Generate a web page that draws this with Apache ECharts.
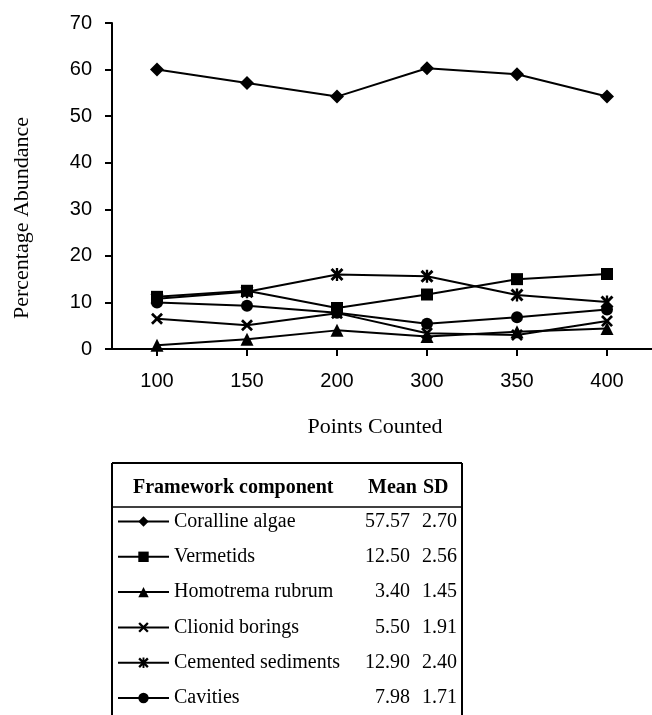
<!DOCTYPE html>
<html>
<head>
<meta charset="utf-8">
<script src="https://cdn.jsdelivr.net/npm/echarts@6/dist/echarts.min.js"></script>
<style>
html,body{margin:0;padding:0;background:#fff;}
#chart{width:652px;height:715px;}
</style>
</head>
<body>
<div id="chart"></div>
<script>
var categories = ['100', '150', '200', '300', '350', '400'];
var yTicks = [0, 10, 20, 30, 40, 50, 60, 70];

var seriesNames = ['Coralline algae', 'Vermetids', 'Homotrema rubrum', 'Clionid borings', 'Cemented sediments', 'Cavities'];
var coralline = [60.0, 57.1, 54.2, 60.3, 59.0, 54.2];
var vermetids = [11.2, 12.5, 8.8, 11.7, 15.0, 16.1];
var homotrema = [0.8, 2.1, 4.0, 2.7, 3.7, 4.4];
var clionid   = [6.5, 5.1, 7.7, 3.4, 3.0, 6.0];
var cemented  = [10.8, 12.3, 16.0, 15.6, 11.6, 10.1];
var cavities  = [10.0, 9.3, 7.8, 5.4, 6.8, 8.5];

var means = ['57.57', '12.50', '3.40', '5.50', '12.90', '7.98'];
var sds   = ['2.70', '2.56', '1.45', '1.91', '2.40', '1.71'];

var tableHeader = ['Framework component', 'Mean', 'SD'];
var xTitle = 'Points Counted';
var yTitle = 'Percentage Abundance';

var crossPath = 'path://M0,1.6L1.6,0L5,3.4L8.4,0L10,1.6L6.6,5L10,8.4L8.4,10L5,6.6L1.6,10L0,8.4L3.4,5Z';
var starPath = 'path://M0,1.6L1.6,0L5,3.4L8.4,0L10,1.6L6.6,5L10,8.4L8.4,10L5,6.6L1.6,10L0,8.4L3.4,5Z M4.1,0L5.9,0L5.9,10L4.1,10Z';

var allData = [coralline, vermetids, homotrema, clionid, cemented, cavities];
var symbols = ['diamond', 'rect', 'triangle', crossPath, starPath, 'circle'];
var symbolSizes = [14, 12, 13, 12, 13, 12];

var serif = '"Liberation Serif", "Times New Roman", serif';
var sans = '"Liberation Sans", Arial, sans-serif';

var series = allData.map(function (d, i) {
  return {
    name: seriesNames[i],
    type: 'line',
    data: d,
    symbol: symbols[i],
    symbolSize: symbolSizes[i],
    showAllSymbol: true,
    lineStyle: { color: '#000', width: 2 },
    itemStyle: { color: '#000', borderWidth: 0 },
    emphasis: { disabled: true },
    animation: false
  };
});

var rowY0 = 521.5, rowStep = 35.3;
var graphics = [
  { type: 'text', x: 22, y: 218, rotation: Math.PI / 2,
    style: { text: yTitle, font: '22px ' + serif, fill: '#000', textAlign: 'center', textVerticalAlign: 'middle' } },
  { type: 'text', x: 375, y: 427,
    style: { text: xTitle, font: '22px ' + serif, fill: '#000', textAlign: 'center', textVerticalAlign: 'middle' } },
  { type: 'line', shape: { x1: 112, y1: 463, x2: 462, y2: 463 }, style: { stroke: '#000', lineWidth: 2 } },
  { type: 'line', shape: { x1: 112, y1: 463, x2: 112, y2: 720 }, style: { stroke: '#000', lineWidth: 2 } },
  { type: 'line', shape: { x1: 462, y1: 463, x2: 462, y2: 720 }, style: { stroke: '#000', lineWidth: 2 } },
  { type: 'line', shape: { x1: 112, y1: 507, x2: 462, y2: 507 }, style: { stroke: '#000', lineWidth: 1.5 } },
  { type: 'text', x: 133, y: 488,
    style: { text: tableHeader[0], font: 'bold 20px ' + serif, fill: '#000', textAlign: 'left', textVerticalAlign: 'middle' } },
  { type: 'text', x: 368, y: 488,
    style: { text: tableHeader[1], font: 'bold 20px ' + serif, fill: '#000', textAlign: 'left', textVerticalAlign: 'middle' } },
  { type: 'text', x: 423, y: 488,
    style: { text: tableHeader[2], font: 'bold 20px ' + serif, fill: '#000', textAlign: 'left', textVerticalAlign: 'middle' } }
];
means.forEach(function (m, i) {
  graphics.push({ type: 'text', x: 410, y: rowY0 + i * rowStep,
    style: { text: m, font: '20px ' + serif, fill: '#000', textAlign: 'right', textVerticalAlign: 'middle' } });
  graphics.push({ type: 'text', x: 457, y: rowY0 + i * rowStep,
    style: { text: sds[i], font: '20px ' + serif, fill: '#000', textAlign: 'right', textVerticalAlign: 'middle' } });
});

var chart = echarts.init(document.getElementById('chart'), null, { renderer: 'canvas' });
chart.setOption({
  animation: false,
  backgroundColor: '#fff',
  grid: { left: 112, top: 23, width: 545, height: 326, containLabel: false },
  xAxis: {
    type: 'category',
    data: categories,
    boundaryGap: true,
    axisLine: { show: true, lineStyle: { color: '#000', width: 2 } },
    axisTick: { show: true, alignWithLabel: true, length: 7, lineStyle: { color: '#000', width: 2 } },
    axisLabel: { color: '#000', fontSize: 20, fontFamily: sans, margin: 22 },
    splitLine: { show: false }
  },
  yAxis: {
    type: 'value',
    min: yTicks[0],
    max: yTicks[yTicks.length - 1],
    interval: 10,
    axisLine: { show: true, lineStyle: { color: '#000', width: 2 } },
    axisTick: { show: true, length: 7, lineStyle: { color: '#000', width: 2 } },
    axisLabel: { color: '#000', fontSize: 20, fontFamily: sans, margin: 20 },
    splitLine: { show: false }
  },
  legend: {
    orient: 'vertical',
    left: 117,
    top: rowY0 - 10,
    padding: 0,
    itemWidth: 51,
    itemHeight: 13,
    itemGap: rowStep - 20,
    selectedMode: false,
    data: seriesNames,
    textStyle: { color: '#000', fontSize: 20, fontFamily: serif, lineHeight: 20, padding: [0, 0, 0, 0] }
  },
  graphic: graphics,
  series: series
});
</script>
</body>
</html>
